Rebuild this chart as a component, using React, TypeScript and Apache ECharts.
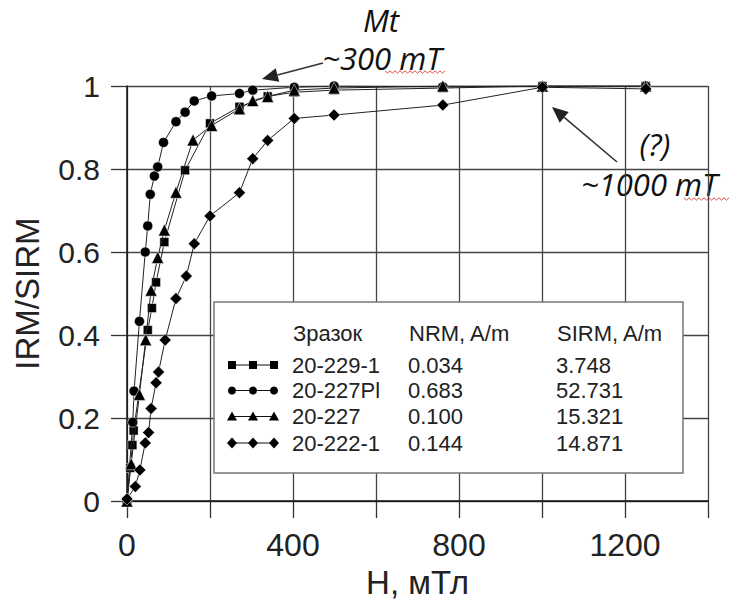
import React, { useEffect, useRef } from "react";
import * as echarts from "echarts";

// ---- data (H in mT, IRM/SIRM) ----
const s229_1: number[][] = [[0,0],[8,0.08],[13,0.135],[16,0.17],[50,0.412],[60,0.465],[70,0.527],[90,0.624],[140,0.797],[200,0.91],[271,0.95],[339,0.975],[403,0.985],[499,0.99],[761,0.995],[1001,1.0],[1250,1.0]];
const s227PI: number[][] = [[0,0],[14,0.19],[17,0.265],[30,0.433],[44,0.6],[50,0.663],[56,0.739],[66,0.783],[74,0.805],[88,0.864],[118,0.914],[140,0.937],[162,0.964],[204,0.976],[271,0.982],[303,0.99],[403,0.997],[499,1.0],[761,0.998],[1001,1.0],[1250,1.0]];
const s227: number[][] = [[0,0],[10,0.09],[30,0.257],[45,0.389],[58,0.508],[74,0.587],[90,0.653],[118,0.744],[159,0.87],[204,0.905],[271,0.945],[303,0.965],[339,0.975],[403,0.99],[499,0.995],[761,1.0],[1001,1.0],[1250,1.0]];
const s222_1: number[][] = [[0,0.005],[20,0.035],[31,0.075],[44,0.14],[52,0.165],[58,0.223],[70,0.285],[76,0.311],[92,0.388],[118,0.488],[143,0.542],[162,0.62],[200,0.687],[271,0.743],[303,0.825],[339,0.869],[403,0.922],[499,0.93],[761,0.954],[1001,0.997],[1250,0.993]];

const sampleNames = ["20-229-1", "20-227Pl", "20-227", "20-222-1"];
const nrmValues = ["0.034", "0.683", "0.100", "0.144"];
const sirmValues = ["3.748", "52.731", "15.321", "14.871"];
const legendHeaders = ["Зразок", "NRM, A/m", "SIRM, A/m"];
const xTickLabels = ["0", "400", "800", "1200"];

const FONT = '"Liberation Sans", Arial, sans-serif';

function arrow(x1: number, y1: number, x2: number, y2: number, len = 16, half = 7) {
  const dx = x2 - x1, dy = y2 - y1;
  const d = Math.sqrt(dx * dx + dy * dy);
  const ux = dx / d, uy = dy / d;
  const bx = x2 - ux * len, by = y2 - uy * len;
  const px = -uy * half, py = ux * half;
  return [
    { type: "line", shape: { x1, y1, x2: bx, y2: by }, style: { stroke: "#333", lineWidth: 1.6 } },
    { type: "polygon", shape: { points: [[x2, y2], [bx + px, by + py], [bx - px, by - py]] }, style: { fill: "#222" } },
  ];
}

function wavy(x1: number, x2: number, y: number) {
  const pts: number[][] = [];
  let up = true;
  for (let x = x1; x <= x2; x += 2.5) {
    pts.push([x, y + (up ? -1.2 : 1.2)]);
    up = !up;
  }
  return { type: "polyline", shape: { points: pts }, style: { stroke: "#e03030", lineWidth: 0.9, fill: null } };
}

function legendMarker(kind: string, cx: number, cy: number) {
  const fill = { fill: "#000" };
  if (kind === "rect") return { type: "rect", shape: { x: cx - 4, y: cy - 4, width: 8, height: 8 }, style: fill };
  if (kind === "circle") return { type: "circle", shape: { cx, cy, r: 4 }, style: fill };
  if (kind === "triangle") return { type: "polygon", shape: { points: [[cx, cy - 5], [cx + 5, cy + 4], [cx - 5, cy + 4]] }, style: fill };
  return { type: "polygon", shape: { points: [[cx, cy - 5.5], [cx + 5, cy], [cx, cy + 5.5], [cx - 5, cy]] }, style: fill };
}

export default function App() {
  const ref = useRef<HTMLDivElement>(null);
  useEffect(() => {
    document.body.style.margin = "0";
    const chart = echarts.init(ref.current!, null, { renderer: "svg" });
    const kinds = ["rect", "circle", "triangle", "diamond"];
    const sizes = [9, 10, 12, 12];
    const datas = [s229_1, s227PI, s227, s222_1];

    const legendGraphics: any[] = [
      { type: "rect", shape: { x: 214, y: 302, width: 469, height: 171 }, style: { fill: "#fff", stroke: "#777", lineWidth: 1.5 }, z: 100 },
    ];
    const hx = [293, 409, 557];
    legendHeaders.forEach((h, i) => {
      legendGraphics.push({ type: "text", x: hx[i], y: 333, z: 101, style: { text: h, font: `22px ${FONT}`, fill: "#222", textVerticalAlign: "middle" } });
    });
    const rowY = [365, 390.5, 416.5, 443];
    sampleNames.forEach((n, i) => {
      const y = rowY[i];
      legendGraphics.push({ type: "line", z: 101, shape: { x1: 232, y1: y, x2: 274, y2: y }, style: { stroke: "#111", lineWidth: 1 } });
      [232, 253, 274].forEach((cx) => legendGraphics.push({ ...legendMarker(kinds[i], cx, y), z: 102 }));
      legendGraphics.push({ type: "text", x: 292, y, z: 101, style: { text: n, font: `22px ${FONT}`, fill: "#222", textVerticalAlign: "middle" } });
      legendGraphics.push({ type: "text", x: 408, y, z: 101, style: { text: nrmValues[i], font: `22px ${FONT}`, fill: "#222", textVerticalAlign: "middle" } });
      legendGraphics.push({ type: "text", x: 556, y, z: 101, style: { text: sirmValues[i], font: `22px ${FONT}`, fill: "#222", textVerticalAlign: "middle" } });
    });

    const annFont = 'italic 31px "Open Sans", sans-serif';
    const annStyle = (text: string, align: string) => ({ text, font: annFont, fill: "#111", textAlign: align, textVerticalAlign: "middle", lineHeight: 31 });
    const annotations: any[] = [
      { type: "text", x: 381, y: 20, style: annStyle("Mt", "center") },
      { type: "text", x: 382, y: 58, style: annStyle("~300 mT", "center") },
      wavy(385, 446, 72),
      ...arrow(323, 63, 262, 79),
      { type: "text", x: 655, y: 144, style: annStyle("(?)", "center") },
      { type: "text", x: 581, y: 184, style: annStyle("~1000 mT", "left") },
      wavy(684, 731, 199),
      ...arrow(617, 162, 552, 107),
    ];

    chart.setOption({
      animation: false,
      backgroundColor: "#fff",
      grid: { left: 127, right: 23, top: 86, bottom: 101, containLabel: false },
      xAxis: {
        type: "value", min: 0, max: 1400, interval: 200,
        name: "H, мТл", nameLocation: "middle", nameGap: 64,
        nameTextStyle: { fontFamily: FONT, fontSize: 33, color: "#222" },
        axisLine: { show: true, onZero: false, lineStyle: { color: "#111", width: 1.5 } },
        axisTick: { show: true, inside: false, length: 17, lineStyle: { color: "#333", width: 1.3 } },
        axisLabel: {
          margin: 28, fontFamily: FONT, fontSize: 32, color: "#222",
          formatter: (v: number) => (xTickLabels.includes(String(v)) ? String(v) : ""),
        },
        splitLine: { show: true, lineStyle: { color: "#444", width: 1.3 } },
      },
      yAxis: {
        type: "value", min: 0, max: 1, interval: 0.2,
        name: "IRM/SIRM", nameLocation: "middle", nameGap: 83, nameRotate: 90,
        nameTextStyle: { fontFamily: FONT, fontSize: 33, color: "#222" },
        axisLine: { show: true, onZero: false, lineStyle: { color: "#111", width: 1.5 } },
        axisTick: { show: true, inside: false, length: 16, lineStyle: { color: "#333", width: 1.3 } },
        axisLabel: { margin: 27, fontFamily: FONT, fontSize: 30, color: "#222", formatter: (v: number) => String(+v.toFixed(1)) },
        splitLine: { show: true, lineStyle: { color: "#444", width: 1.3 } },
      },
      series: datas.map((d, i) => ({
        name: sampleNames[i],
        type: "line",
        data: d,
        symbol: kinds[i],
        symbolSize: sizes[i],
        showAllSymbol: true,
        itemStyle: { color: "#000", borderColor: "#fff", borderWidth: 0.5 },
        lineStyle: { color: "#222", width: 1 },
        z: 3 + i,
      })),
      graphic: [...legendGraphics, ...annotations],
    });
    return () => chart.dispose();
  }, []);
  return <div ref={ref} style={{ width: 731, height: 604 }} />;
}
